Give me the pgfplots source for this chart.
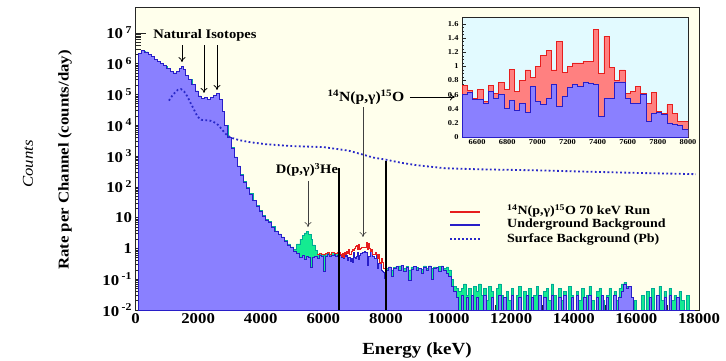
\documentclass[border=0pt]{standalone}
\usepackage{pgfplots}
\pgfplotsset{compat=1.18}
\usepackage{pgfplotstable}
\usetikzlibrary{arrows.meta}
\usepackage{fontspec}
\setmainfont{Liberation Serif}[FakeStretch=1.12]
\definecolor{cream}{RGB}{255,255,236}
\definecolor{icyan}{RGB}{226,250,255}
\definecolor{ppl}{RGB}{138,128,255}
\definecolor{pplline}{RGB}{40,30,200}
\definecolor{grn}{RGB}{20,235,145}
\definecolor{teal2}{RGB}{0,170,150}
\definecolor{salmon}{RGB}{255,128,128}
\definecolor{redline}{RGB}{230,30,30}
\definecolor{dotc}{RGB}{40,40,200}

\pgfplotstableread{
E P G
100 2.2e6 2.2e6
200 2.6e6 2.6e6
300 2.4e6 2.4e6
400 2.0e6 2.0e6
500 1.66e6 1.66e6
600 1.41e6 1.41e6
700 1.2e6 1.2e6
800 1.0e6 1.0e6
900 8.5e5 8.5e5
1000 6.9e5 6.9e5
1100 5.75e5 5.75e5
1200 5.0e5 5.0e5
1300 5.5e5 5.5e5
1400 7.2e5 7.2e5
1460 7.9e5 7.9e5
1520 6.3e5 6.3e5
1600 4.2e5 4.2e5
1700 3.0e5 3.0e5
1800 2.1e5 2.1e5
1900 1.3e5 1.3e5
2000 8.9e4 8.9e4
2100 7.2e4 7.2e4
2200 7.9e4 7.9e4
2300 6.9e4 6.9e4
2400 7.9e4 7.9e4
2500 9.5e4 9.5e4
2600 1.07e5 1.07e5
2680 7.1e4 7.1e4
2760 2.8e4 2.8e4
2850 1.0e4 1.0e4
2950 4.0e3 4.0e3
3050 1.8e3 1.9e3
3150 890 940
3250 450 480
3350 240 255
3450 141 150
3550 89 95
3650 56 60
3750 35 37
3850 24 25.5
3950 15.8 17
4050 11.2 12
4150 8.3 8.9
4250 7.2 7.6
4350 4.8 5.1
4450 3.5 3.7
4550 2.8 2.95
4650 2.2 2.35
4750 1.66 1.78
4850 1.3 1.4
4950 1.05 1.12
5050 0.83 0.95
5150 0.71 1.4
5250 0.52 2.0
5330 0.6 2.6
5400 0.45 3.2
5460 0.56 3.5
5530 0.5 2.8
5600 0.24 2.0
5660 0.52 1.3
5730 0.56 0.85
5800 0.47 0.64
5870 0.6 0.68
5940 0.54 0.66
6000 0.18 0.62
6060 0.57 0.7
6130 0.63 0.72
6200 0.55 0.66
6270 0.6 0.74
6340 0.66 0.7
6400 0.57 0.68
6460 0.6 0.72
6500 0.6 0.72
}\lowtab

\pgfplotstableread{
E R B
6500.0 0.73 0.60
6534.9 0.66 0.63
6569.8 0.55 0.53
6604.7 0.68 0.53
6639.5 0.50 0.47
6674.4 0.73 0.64
6709.3 0.62 0.55
6744.2 0.77 0.60
6779.1 0.67 0.40
6814.0 0.96 0.52
6848.8 0.65 0.38
6883.7 0.80 0.47
6918.6 0.95 0.35
6953.5 0.85 0.72
6988.4 1.00 0.50
7023.3 1.15 0.46
7058.1 1.23 0.55
7093.0 0.95 0.75
7127.9 1.36 0.43
7162.8 0.92 0.58
7197.7 1.00 0.70
7232.6 1.05 0.75
7267.4 1.05 0.72
7302.3 1.07 0.78
7337.2 1.07 0.76
7372.1 1.53 0.75
7407.0 0.90 0.29
7441.9 1.43 0.55
7476.7 0.98 0.55
7511.6 0.80 0.78
7546.5 0.95 0.78
7581.4 0.62 0.55
7616.3 0.64 0.48
7651.2 0.72 0.47
7686.0 0.62 0.60
7720.9 0.48 0.22
7755.8 0.63 0.33
7790.7 0.36 0.35
7825.6 0.33 0.32
7860.5 0.46 0.20
7895.3 0.34 0.18
7930.2 0.22 0.17
7965.1 0.22 0.11
8000.0 0.22 0.11
}\insettab

\pgfplotstableread{
E P G
8000 0.20 0.22
8080 0.25 0.25
8160 0.12 0.20
8240 0.22 0.24
8320 0.26 0.26
8400 0.20 0.27
8480 0.28 0.28
8560 0.18 0.22
8640 0.24 0.26
8720 0.09 0.20
8800 0.21 0.25
8880 0.26 0.26
8960 0.19 0.24
9040 0.23 0.23
9120 0.15 0.21
9200 0.25 0.27
9280 0.20 0.22
9360 0.27 0.27
9440 0.10 0.23
9520 0.22 0.25
9600 0.24 0.24
9680 0.18 0.26
9760 0.26 0.27
9840 0.20 0.22
9920 0.16 0.25
10000 0.12 0.20
10080 0.06 0.10
10160 0.04 0.06
10240 0.025 0.05
10320 0.001 0.04
10400 0.03 0.05
10480 0.001 0.07
10560 0.025 0.03
10640 0.001 0.05
10720 0.03 0.001
10800 0.001 0.06
10880 0.025 0.04
10960 0.001 0.07
11040 0.001 0.03
11120 0.03 0.05
11200 0.001 0.02
11280 0.001 0.06
11360 0.025 0.04
11440 0.001 0.001
11520 0.001 0.05
11600 0.03 0.07
11680 0.001 0.03
11760 0.025 0.001
11840 0.001 0.04
11920 0.001 0.02
12000 0.03 0.05
12080 0.001 0.001
12160 0.001 0.03
12240 0.025 0.06
12320 0.001 0.001
12400 0.001 0.04
12480 0.03 0.02
12560 0.001 0.05
12640 0.025 0.001
12720 0.001 0.03
12800 0.001 0.06
12880 0.03 0.02
12960 0.001 0.001
13040 0.025 0.04
13120 0.001 0.05
13200 0.001 0.02
13280 0.03 0.07
13360 0.001 0.03
13440 0.001 0.001
13520 0.025 0.05
13600 0.001 0.02
13680 0.03 0.04
13760 0.001 0.001
13840 0.001 0.06
13920 0.025 0.03
14000 0.001 0.001
14080 0.03 0.04
14160 0.001 0.02
14240 0.001 0.05
14320 0.025 0.001
14400 0.001 0.03
14480 0.03 0.06
14560 0.001 0.02
14640 0.001 0.001
14720 0.025 0.04
14800 0.001 0.05
14880 0.03 0.02
14960 0.001 0.001
15040 0.025 0.03
15120 0.001 0.05
15200 0.001 0.001
15280 0.03 0.04
15360 0.001 0.02
15440 0.025 0.05
15520 0.04 0.07
15600 0.07 0.08
15680 0.05 0.06
15760 0.06 0.03
15840 0.025 0.001
15920 0.001 0.02
16000 0.001 0.001
16080 0.001 0.001
16160 0.001 0.03
16240 0.001 0.001
16320 0.001 0.04
16400 0.025 0.02
16480 0.001 0.05
16560 0.001 0.001
16640 0.03 0.03
16720 0.001 0.06
16800 0.001 0.02
16880 0.025 0.04
16960 0.001 0.001
17040 0.03 0.05
17120 0.001 0.02
17200 0.001 0.03
17280 0.025 0.001
17360 0.001 0.04
17440 0.001 0.02
17520 0.001 0.001
17600 0.001 0.03
17680 0.001 0.001
17760 0.001 0.001
17840 0.001 0.001
}\hightab

\pgfplotstableread{
E S
1070 6.3e4
1200 1.0e5
1350 1.4e5
1450 1.5e5
1550 1.26e5
1650 8.9e4
1770 5.0e4
1900 2.8e4
1980 1.9e4
2100 1.5e4
2250 1.45e4
2400 1.4e4
2550 1.2e4
2650 1.0e4
2770 7.1e3
2900 5.0e3
3030 4.0e3
3300 3.3e3
3670 2.8e3
4200 2.4e3
5000 2.1e3
6000 1.95e3
6800 1.5e3
7250 1.12e3
7600 890
8000 760
8500 600
9000 500
9900 400
11000 370
12000 355
13000 340
14100 316
15000 300
16200 280
17000 270
17900 257
}\surftab

\begin{document}
\begin{tikzpicture}[x=1pt,y=1pt]
\useasboundingbox (0,0) rectangle (726,360);
\begin{axis}[
  at={(135.5pt,50pt)}, anchor=south west,
  width=563.5pt, height=303pt, scale only axis,
  xmin=0, xmax=18000, ymode=log, ymin=1e-2, ymax=6.9e7,
  log origin y=infty,
  axis background/.style={fill=cream},
  axis line style={line width=0.9pt, black!85},
  tick align=inside,
  xtick pos=bottom, ytick pos=left,
  xtick={0,2000,...,18000},
  minor x tick num=3,
  ytick={1e-2,1e-1,1,10,100,1e3,1e4,1e5,1e6,1e7},
  yticklabels={10\,\textsuperscript{-2},10\,\textsuperscript{-1},1,10,10\,\textsuperscript{2},10\,\textsuperscript{3},10\,\textsuperscript{4},10\,\textsuperscript{5},10\,\textsuperscript{6},10\,\textsuperscript{7}},
  major tick length=10pt, minor tick length=5pt,
  every tick/.style={black!85, line width=0.6pt},
  scaled x ticks=false,
  /pgf/number format/1000 sep={},
  /pgf/number format/assume math mode=true,
  tick label style={font=\fontsize{15}{15}\selectfont\bfseries},
]
\addplot[const plot, fill=grn, draw=teal2, line width=0.6pt] table[x=E,y=G]{\lowtab} \closedcycle;
\addplot[const plot, fill=grn, draw=teal2, line width=0.6pt] table[x=E,y=G]{\hightab} \closedcycle;
\addplot[const plot, fill=ppl, draw=pplline, line width=0.8pt] table[x=E,y=P]{\lowtab} \closedcycle;
\addplot[const plot, fill=ppl, draw=pplline, line width=0.8pt] table[x=E,y=B]{\insettab} \closedcycle;
\addplot[const plot, fill=ppl, draw=pplline, line width=0.8pt] table[x=E,y=P]{\hightab} \closedcycle;
\addplot[const plot, draw=redline, line width=0.9pt, restrict x to domain=5800:6500] table[x=E,y=G]{\lowtab};
\addplot[const plot, draw=redline, line width=0.9pt] table[x=E,y=R]{\insettab};
\addplot[dotc, line width=1.8pt, dash pattern=on 1.8pt off 2.4pt] table[x=E,y=S]{\surftab};

\draw[line width=1.8pt] (axis cs:6500,1e-2) -- (axis cs:6500,400);
\draw[line width=1.8pt] (axis cs:8000,1e-2) -- (axis cs:8000,700);

\node[font=\fontsize{13}{13}\selectfont\bfseries] at (axis cs:2220,8.5e6) {Natural Isotopes};
\draw[-{To[length=5pt,width=7pt]}, line width=0.8pt] (axis cs:1485,4.0e6) -- (axis cs:1485,1.12e6);
\draw[-{To[length=5pt,width=7pt]}, line width=0.8pt] (axis cs:2188,4.0e6) -- (axis cs:2188,1.12e5);
\draw[-{To[length=5pt,width=7pt]}, line width=0.8pt] (axis cs:2603,4.0e6) -- (axis cs:2603,1.4e5);

\node[font=\fontsize{13}{13}\selectfont\bfseries] at (axis cs:5477,355) {D(p,γ)\textsuperscript{3}He};
\draw[-{To[length=5pt,width=7pt]}, line width=0.6pt, black!75] (axis cs:5510,155) -- (axis cs:5510,4.95);

\node[font=\fontsize{14}{14}\selectfont\bfseries] at (axis cs:7362,8.3e4) {\textsuperscript{14}N(p,γ)\textsuperscript{15}O};
\draw[-{To[length=5pt,width=7pt]}, line width=0.8pt] (axis cs:8767,8.3e4) -- (axis cs:10204,8.3e4);
\draw[-{To[length=5pt,width=7pt]}, line width=0.6pt, black!75] (axis cs:7266,3.9e4) -- (axis cs:7266,2.35);
\end{axis}

% legend
\draw[redline, line width=1.2pt] (450,148) -- (480,148);
\draw[pplline, line width=1.2pt] (450,135) -- (480,135);
\draw[dotc, line width=1.6pt, dash pattern=on 1.6pt off 2.4pt] (450,121) -- (480,121);
\begin{scope}[every node/.style={anchor=west, font=\fontsize{12.5}{12.5}\selectfont\bfseries, inner sep=0pt}]
\node at (507,149) {\textsuperscript{14}N(p,γ)\textsuperscript{15}O 70 keV Run};
\node at (507,135) {Underground Background};
\node at (507,121) {Surface Background (Pb)};
\end{scope}

\node[rotate=90, font=\fontsize{15}{15}\selectfont\bfseries] at (65,200) {Rate per Channel (counts/day)};
\node[rotate=90, font=\fontsize{15}{15}\selectfont\itshape] at (28,196) {Counts};
\node[font=\fontsize{17}{17}\selectfont\bfseries] at (417,10) {Energy (keV)};

\begin{axis}[
  at={(462pt,223pt)}, anchor=south west,
  width=226pt, height=120pt, scale only axis,
  xmin=6500, xmax=8000, ymin=0, ymax=1.7,
  axis background/.style={fill=icyan},
  axis line style={line width=0.8pt, black!85},
  xtick={6600,6800,...,8000}, minor x tick num=3,
  ytick={0,0.2,0.4,0.6,0.8,1,1.2,1.4,1.6}, minor y tick num=3,
  tick align=inside, xtick pos=bottom, ytick pos=left,
  major tick length=4pt, minor tick length=2pt,
  every tick/.style={black!85, line width=0.5pt},
  scaled x ticks=false,
  /pgf/number format/1000 sep={},
  /pgf/number format/assume math mode=true,
  tick label style={font=\fontsize{7.5}{8}\selectfont\bfseries},
  xticklabel style={yshift=1pt},
]
\addplot[const plot, fill=salmon, draw=redline, line width=0.7pt] table[x=E,y=R]{\insettab} \closedcycle;
\addplot[const plot, fill=ppl, draw=pplline, line width=0.7pt] table[x=E,y=B]{\insettab} \closedcycle;
\end{axis}
\end{tikzpicture}
\end{document}
